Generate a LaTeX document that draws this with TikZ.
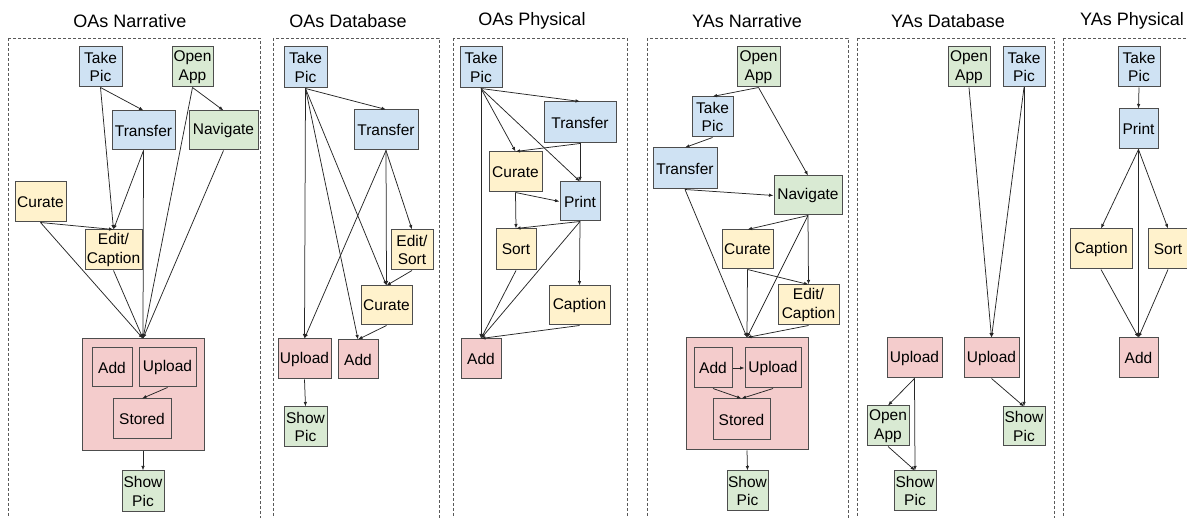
\documentclass[tikz,border=0pt]{standalone}
\usepackage{fontspec}
\setmainfont{Liberation Sans}
\usetikzlibrary{arrows.meta}
\definecolor{bluefill}{HTML}{CFE2F3}
\definecolor{greenfill}{HTML}{D9EAD3}
\definecolor{yellowfill}{HTML}{FFF2CC}
\definecolor{redfill}{HTML}{F4CCCC}
\definecolor{boxline}{HTML}{4D4D4D}
\tikzset{
  box/.style={draw=boxline, line width=1pt, inner sep=0pt, align=center,
    font=\fontsize{15.5}{18.5}\selectfont},
  bl/.style={box, fill=bluefill},
  gr/.style={box, fill=greenfill},
  ye/.style={box, fill=yellowfill},
  rd/.style={box, fill=redfill},
  wh/.style 2 args={minimum width=#1, minimum height=#2},
  arr/.style={-{Latex[length=4.5pt,width=3.5pt]}, line width=0.75pt, draw=black!85},
  frame/.style={draw=black!65, dash pattern=on 3pt off 2pt, line width=0.7pt},
  ttl/.style={font=\fontsize{18}{20}\selectfont}
}
\begin{document}
\begin{tikzpicture}[x=1pt, y=-1pt]
\useasboundingbox (0,0) rectangle (1187,518);

% ---------- OAs Narrative ----------
\node[ttl] (t1) at (130,21) {OAs Narrative};
\draw[frame] (8,38) rectangle (260,530);
\node[bl,wh={43}{40}] (p1take) at (100.5,67) {Take\\Pic};
\node[gr,wh={41}{40}] (p1open) at (192.5,67) {Open\\App};
\node[bl,wh={63}{39}] (p1trans) at (143.5,130.5) {Transfer};
\node[gr,wh={69}{39}] (p1nav) at (223.5,130.5) {Navigate};
\node[ye,wh={51}{40}] (p1cur) at (40.5,202) {Curate};
\node[ye,wh={57}{40}] (p1edit) at (113.5,250) {Edit/\\Caption};
\node[rd,wh={122}{112}] (p1big) at (143,395) {};
\node[rd,wh={40}{39}] (p1add) at (112,367.5) {Add};
\node[rd,wh={57}{39}] (p1up) at (167.5,367.5) {Upload};
\node[rd,wh={58}{40}] (p1sto) at (142,419) {Stored};
\node[gr,wh={42}{41}] (p1show) at (143,491.5) {Show\\Pic};
\draw[arr] (p1take.south) -- (p1trans.north);
\draw[arr] (p1take.south) -- (p1edit.north);
\draw[arr] (p1trans.south) -- (p1edit.north);
\draw[arr] (p1trans.south) -- (p1big.north);
\draw[arr] (p1open.south) -- (p1nav.north);
\draw[arr] (p1open.south) -- (p1big.north);
\draw[arr] (p1nav.south) -- (p1big.north);
\draw[arr] (p1cur.south) -- (p1edit.north);
\draw[arr] (p1cur.south) -- (p1big.north);
\draw[arr] (p1edit.south) -- (p1big.north);
\draw[arr] (p1up.south) -- (p1sto.north);
\draw[arr] (p1big.south) -- (p1show.north);

% ---------- OAs Database ----------
\node[ttl] (t2) at (348,21) {OAs Database};
\draw[frame] (273,38) rectangle (439,530);
\node[bl,wh={43}{41}] (p2take) at (305.5,67.5) {Take\\Pic};
\node[bl,wh={64}{40}] (p2trans) at (386,130) {Transfer};
\node[ye,wh={42}{40}] (p2edit) at (412,250) {Edit/\\Sort};
\node[ye,wh={51}{39}] (p2cur) at (386.5,305.5) {Curate};
\node[rd,wh={53}{40}] (p2up) at (304.5,359) {Upload};
\node[rd,wh={40}{39}] (p2add) at (358,359.5) {Add};
\node[gr,wh={43}{40}] (p2show) at (305.5,427) {Show\\Pic};
\draw[arr] (p2take.south) -- (p2trans.north);
\draw[arr] (p2take.south) -- (p2up.north);
\draw[arr] (p2take.south) -- (p2add.north);
\draw[arr] (p2take.south) -- (p2cur.north);
\draw[arr] (p2trans.south) -- (p2edit.north);
\draw[arr] (p2trans.south) -- (p2cur.north);
\draw[arr] (p2trans.south) -- (p2up.north);
\draw[arr] (p2edit.south) -- (p2cur.north);
\draw[arr] (p2cur.south) -- (p2add.north);
\draw[arr] (p2up.south) -- (p2show.north);

% ---------- OAs Physical ----------
\node[ttl] (t3) at (532,21) {OAs Physical};
\draw[frame] (453,38) rectangle (627,530);
\node[bl,wh={42}{41}] (p3take) at (481,67.5) {Take\\Pic};
\node[bl,wh={72}{41}] (p3trans) at (580,122.5) {Transfer};
\node[ye,wh={53}{40}] (p3cur) at (515.5,172) {Curate};
\node[bl,wh={40}{39}] (p3print) at (580,201.5) {Print};
\node[ye,wh={40}{41}] (p3sort) at (516,249.5) {Sort};
\node[ye,wh={61}{39}] (p3cap) at (579.5,305.5) {Caption};
\node[rd,wh={40}{40}] (p3add) at (481,359) {Add};
\draw[arr] (p3take.south) -- (p3trans.north);
\draw[arr] (p3take.south) -- (p3cur.north);
\draw[arr] (p3take.south) -- (p3print.north);
\draw[arr] (p3take.south) -- (p3add.north);
\draw[arr] (p3trans.south) -- (p3cur.north);
\draw[arr] (p3trans.south) -- (p3print.north);
\draw[arr] (p3cur.south) -- (p3print.west);
\draw[arr] (p3cur.south) -- (p3sort.north);
\draw[arr] (p3print.south) -- (p3sort.north);
\draw[arr] (p3print.south) -- (p3cap.north);
\draw[arr] (p3print.south) -- (p3add.north);
\draw[arr] (p3sort.south) -- (p3add.north);
\draw[arr] (p3cap.south) -- (p3add.north);

% ---------- YAs Narrative ----------
\node[ttl] (t4) at (747,21) {YAs Narrative};
\draw[frame] (647,38) rectangle (848,530);
\node[gr,wh={43}{40}] (p4open) at (758.5,67) {Open\\App};
\node[bl,wh={41}{40}] (p4take) at (712.5,117) {Take\\Pic};
\node[bl,wh={64}{41}] (p4trans) at (685,168.5) {Transfer};
\node[gr,wh={68}{39}] (p4nav) at (808,195.5) {Navigate};
\node[ye,wh={51}{39}] (p4cur) at (747.5,249.5) {Curate};
\node[ye,wh={61}{40}] (p4edit) at (808.5,305) {Edit/\\Caption};
\node[rd,wh={122}{112}] (p4big) at (747,394) {};
\node[rd,wh={38}{40}] (p4add) at (713,368) {Add};
\node[rd,wh={56}{40}] (p4up) at (773,368) {Upload};
\node[rd,wh={57}{41}] (p4sto) at (741.5,419.5) {Stored};
\node[gr,wh={41}{40}] (p4show) at (747.5,491) {Show\\Pic};
\draw[arr] (p4open.south) -- (p4take.north);
\draw[arr] (p4open.south) -- (p4nav.north);
\draw[arr] (p4take.south) -- (p4trans.north);
\draw[arr] (p4trans.south) -- (p4nav.west);
\draw[arr] (p4trans.south) -- (p4big.north);
\draw[arr] (p4nav.south) -- (p4cur.north);
\draw[arr] (p4nav.south) -- (p4big.north);
\draw[arr] (p4nav.south) -- (p4edit.north);
\draw[arr] (p4cur.south) -- (p4big.north);
\draw[arr] (p4cur.south) -- (p4edit.north);
\draw[arr] (p4edit.south) -- (p4big.north);
\draw[arr] (p4add.east) -- (p4up.west);
\draw[arr] (p4add.south) -- (p4sto.north);
\draw[arr] (p4up.south) -- (p4sto.north);
\draw[arr] (p4big.south) -- (p4show.north);

% ---------- YAs Database ----------
\node[ttl] (t5) at (948,21) {YAs Database};
\draw[frame] (857,38) rectangle (1054,530);
\node[gr,wh={42}{40}] (p5open) at (969,67) {Open\\App};
\node[bl,wh={42}{40}] (p5take) at (1024,67) {Take\\Pic};
\node[rd,wh={55}{40}] (p5upL) at (914.5,358) {Upload};
\node[rd,wh={55}{40}] (p5upR) at (991.5,358) {Upload};
\node[gr,wh={42}{40}] (p5openL) at (888,426) {Open\\App};
\node[gr,wh={42}{40}] (p5showL) at (915,491) {Show\\Pic};
\node[gr,wh={42}{39}] (p5showR) at (1024,426.5) {Show\\Pic};
\draw[arr] (p5open.south) -- (p5upR.north);
\draw[arr] (p5take.south) -- (p5upR.north);
\draw[arr] (p5take.south) -- (p5showR.north);
\draw[arr] (p5upR.south) -- (p5showR.north);
\draw[arr] (p5upL.south) -- (p5openL.north);
\draw[arr] (p5upL.south) -- (p5showL.north);
\draw[arr] (p5openL.south) -- (p5showL.north);

% ---------- YAs Physical ----------
\node[ttl] (t6) at (1132,21) {YAs Physical};
\draw[frame] (1063,38) rectangle (1200,530);
\node[bl,wh={42}{40}] (p6take) at (1139,67) {Take\\Pic};
\node[bl,wh={39}{40}] (p6print) at (1138.5,129) {Print};
\node[ye,wh={62}{40}] (p6cap) at (1101,249) {Caption};
\node[ye,wh={40}{40}] (p6sort) at (1168,249) {Sort};
\node[rd,wh={39}{40}] (p6add) at (1138.5,358) {Add};
\draw[arr] (p6take.south) -- (p6print.north);
\draw[arr] (p6print.south) -- (p6cap.north);
\draw[arr] (p6print.south) -- (p6sort.north);
\draw[arr] (p6print.south) -- (p6add.north);
\draw[arr] (p6cap.south) -- (p6add.north);
\draw[arr] (p6sort.south) -- (p6add.north);
\end{tikzpicture}
\end{document}
